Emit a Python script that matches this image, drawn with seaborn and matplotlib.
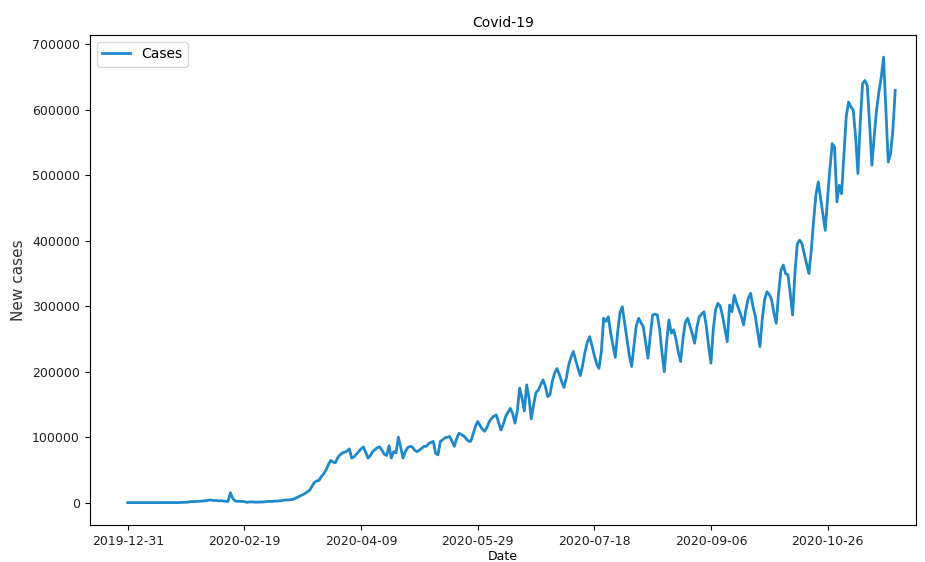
import matplotlib
matplotlib.use("Agg")
import matplotlib.pyplot as plt
import matplotlib.ticker as mticker
import numpy as np
import pandas as pd
import seaborn as sns

# Daily worldwide new Covid-19 cases, one value per day from 2019-12-31
new_cases = [
    # 2019-12-31 .. 2020-01-19
    27, 0, 0, 17, 0, 15, 0, 0, 0, 0, 0, 1, 0, 1, 1, 0, 4, 17, 136, 19,
    # 2020-01-20 .. 2020-02-18
    152, 140, 97, 259, 441, 665, 787, 1753, 1466, 1740,
    1984, 2101, 2590, 2827, 3235, 3884, 3694, 3151, 3385, 2652,
    2984, 2473, 2022, 1820, 15141, 6518, 2651, 2105, 2048, 1886,
    # 2020-02-19 .. 2020-03-19
    1751, 395, 1033, 1015, 1072, 578, 874, 971, 1094, 1340,
    1800, 1951, 1803, 2340, 2400, 2700, 3000, 3900, 3950, 4100,
    4500, 5200, 7000, 8500, 10500, 12000, 14000, 16500, 19000, 25000,
    # 2020-03-20 .. 2020-04-18
    31000, 33000, 34000, 40000, 44000, 50000, 58000, 64500, 62000, 61000,
    68500, 73000, 76000, 77000, 79000, 82000, 68000, 70000, 74000, 78000,
    82000, 85000, 77000, 68000, 72000, 78000, 81000, 84000, 85000, 80000,
    # 2020-04-19 .. 2020-05-18
    74000, 72000, 87000, 68000, 78000, 76000, 100000, 85000, 68000, 78000,
    84000, 86000, 85000, 80000, 78000, 80000, 83000, 86000, 86000, 90000,
    92000, 93500, 75000, 73000, 93500, 96000, 99000, 100000, 101000, 94000,
    # 2020-05-19 .. 2020-06-17
    86000, 98000, 106000, 104000, 102000, 98000, 94000, 93500, 104000, 116000,
    124000, 118000, 112000, 109000, 115000, 124000, 129000, 132000, 134000, 122000,
    111000, 120000, 131600, 138000, 144000, 136000, 121500, 140000, 175000, 160000,
    # 2020-06-18 .. 2020-07-17
    140000, 180000, 160000, 128000, 150000, 168000, 172000, 180000, 187500, 178000,
    162000, 165000, 185000, 198000, 205000, 196000, 185000, 176000, 190000, 210000,
    222000, 231000, 218000, 205000, 194000, 210000, 230000, 245000, 253600, 240000,
    # 2020-07-18 .. 2020-08-16
    225000, 212000, 205000, 230000, 281700, 277000, 284000, 260000, 240000, 222000,
    260000, 290000, 299400, 275000, 250000, 225000, 208000, 240000, 270000, 281700,
    275000, 269000, 245000, 220700, 255000, 286700, 288000, 286700, 265000, 230000,
    # 2020-08-17 .. 2020-09-15
    200000, 245000, 279000, 259000, 264000, 250000, 230000, 215500, 250000, 275000,
    281700, 270000, 258000, 243500, 268000, 284000, 288000, 291700, 270000, 240000,
    213000, 265000, 295000, 304500, 300000, 285000, 265000, 246000, 302000, 291700,
    # 2020-09-16 .. 2020-10-15
    317000, 305000, 295000, 285000, 271500, 295000, 312000, 319800, 300000, 285000,
    262000, 238400, 280000, 310000, 322200, 318000, 310000, 290000, 274000, 320000,
    355000, 363000, 350000, 348000, 320000, 286700, 350000, 395000, 401000, 396000,
    # 2020-10-16 .. 2020-11-14
    380000, 365000, 350000, 385000, 430000, 470000, 490000, 465000, 440000, 416000,
    465000, 510000, 548500, 543000, 459500, 485000, 472000, 530000, 590000, 612000,
    605000, 599400, 560000, 502800, 580000, 640000, 645000, 637500, 580000, 515500,
    # 2020-11-15 .. 2020-11-24
    560000, 600000, 627300, 650000, 680700, 600000, 520500, 533000, 570000, 630000,
]

dates = pd.date_range("2019-12-31", periods=len(new_cases), freq="D").strftime("%Y-%m-%d")
tick_positions = [0, 50, 100, 150, 200, 250, 300]
tick_labels = ["2019-12-31", "2020-02-19", "2020-04-09", "2020-05-29",
               "2020-07-18", "2020-09-06", "2020-10-26"]

df = pd.DataFrame({"Date": dates, "Cases": new_cases})
df["day"] = np.arange(len(df))

fig, ax = plt.subplots(figsize=(9.25, 5.62), dpi=100)
fig.subplots_adjust(left=0.097, right=0.990, top=0.938, bottom=0.066)

sns.lineplot(data=df, x="day", y="Cases", ax=ax, color="#1f88c8",
             linewidth=2.0, label="Cases")

ax.set_xlim(-16.3, 337.8)
ax.set_xticks(tick_positions)
ax.set_xticklabels(tick_labels)
ax.yaxis.set_major_locator(mticker.MultipleLocator(100000))
ax.yaxis.set_major_formatter(mticker.FuncFormatter(lambda v, p: f"{int(v)}"))
ax.tick_params(labelsize=9, labelcolor="#222222")

ax.set_title("Covid-19", fontsize=10)
ax.set_xlabel("Date", fontsize=9, labelpad=2)
ax.set_ylabel("New cases", fontsize=11, color="#333333")
ax.legend(loc="upper left", fontsize=10)

fig.savefig("out.png", dpi=100)
